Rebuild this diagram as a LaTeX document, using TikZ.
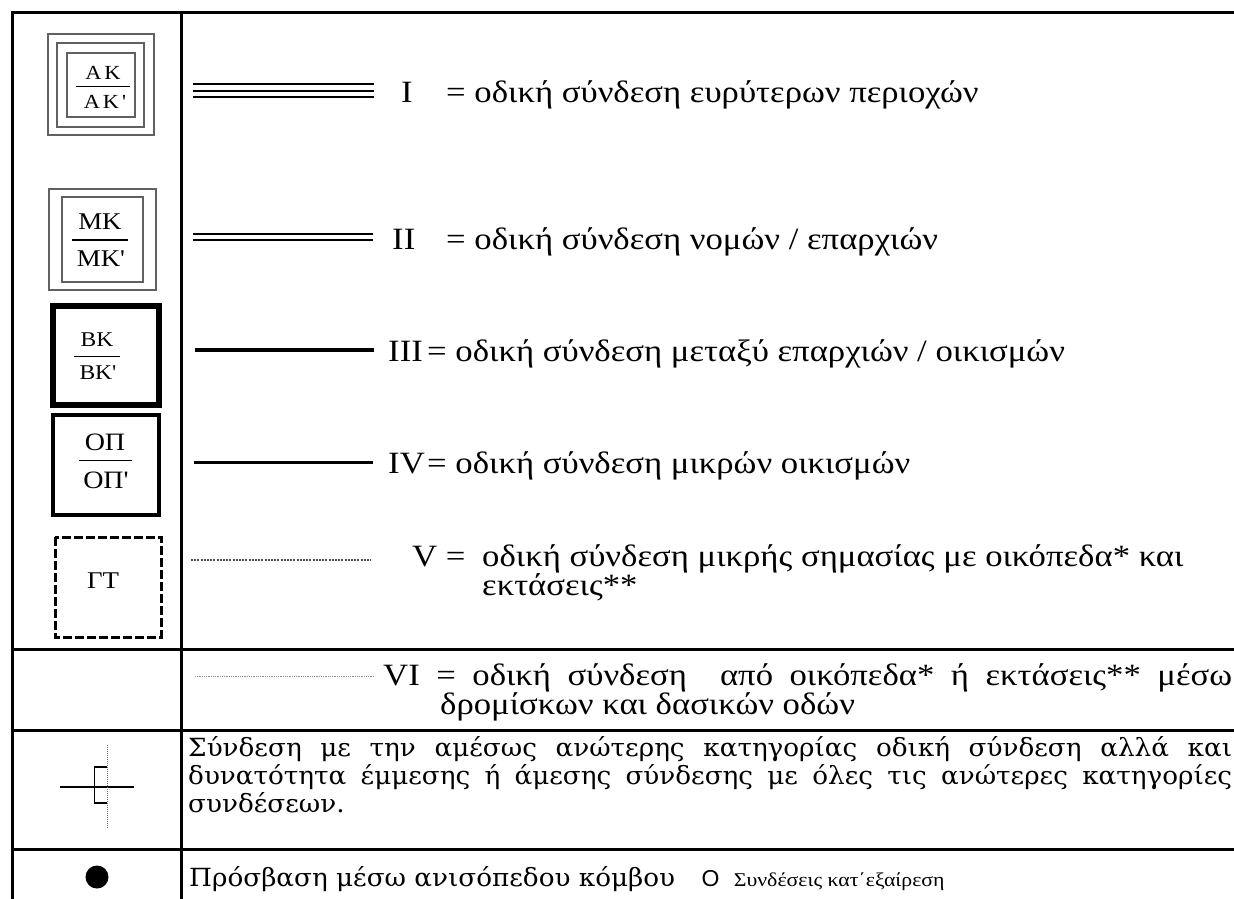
\documentclass[tikz,border=0pt]{standalone}
\usepackage{fontspec}
\newfontfamily\grfont{Liberation Serif}[FakeStretch=1.12]
\newfontfamily\parafont{DejaVu Serif}[FakeStretch=1.05]
\newfontfamily\sansO{Liberation Sans}
\newcommand\fsz[2]{\fontsize{#1pt}{#2pt}\selectfont}
\tikzset{
  frame/.style={line width=3pt, line cap=rect},
  gbox/.style={draw=black!62, line width=1.2pt},
  fracline/.style={line width=1.4pt},
  fractxt/.style={inner sep=0pt, anchor=center, font=\grfont\fsz{20}{20}},
  rowtxt/.style={anchor=base west, inner sep=0pt, font=\grfont\fsz{31}{34}},
  paratxt/.style={anchor=base west, inner sep=0pt, font=\parafont\fsz{25}{28}},
  dbl/.style={line width=2pt},
}
\begin{document}
\begin{tikzpicture}[x=1pt,y=-1pt]
\useasboundingbox (0,0) rectangle (1234,898);
\fill[white] (0,0) rectangle (1234,898);
\clip (0,0) rectangle (1234,898);

% ---- table frame
\coordinate (tl) at (12,12);
\coordinate (tr) at (1245,12);
\coordinate (bl) at (12,910);
\coordinate (dt) at (181,12);
\coordinate (db) at (181,910);
\draw[frame] (tr) -- (tl) -- (bl);
\draw[frame] (dt) -- (db);
\coordinate (s1l) at (12,649);  \coordinate (s1r) at (1245,649);
\coordinate (s2l) at (12,730);  \coordinate (s2r) at (1245,730);
\coordinate (s3l) at (12,849);  \coordinate (s3r) at (1245,849);
\draw[frame] (s1l) -- (s1r);
\draw[frame] (s2l) -- (s2r);
\draw[frame] (s3l) -- (s3r);

% ---- AK box
\draw[gbox] (48,34) rectangle (154,135);
\draw[gbox] (57,43) rectangle (144,127);
\draw[gbox] (67,53) rectangle (135,117);
\node[fractxt, font=\grfont\fsz{20}{20}] (ak1) at (103,73) {Α\hspace{3pt}Κ};
\node[fractxt, font=\grfont\fsz{20}{20}] (ak2) at (105,102) {Α\hspace{3pt}Κ\hspace{3pt}'};
\draw[fracline] (76,86.7) -- (130,86.7);

% ---- MK box
\draw[gbox] (49,189) rectangle (156,290);
\draw[gbox] (62,197) rectangle (143,282);
\node[fractxt, font=\grfont\fsz{24}{24}] (mk1) at (100,222) {ΜΚ};
\node[fractxt, font=\grfont\fsz{24}{24}] (mk2) at (101,259) {ΜΚ'};
\draw[fracline] (72,240) -- (128,240);

% ---- BK box
\draw[line width=5.5pt] (53,306) rectangle (159,405);
\node[fractxt, font=\grfont\fsz{21}{21}] (bk1) at (97,340) {ΒΚ};
\node[fractxt, font=\grfont\fsz{21}{21}] (bk2) at (98,373) {ΒΚ'};
\draw[fracline] (74,356.7) -- (120,356.7);

% ---- OP box
\draw[line width=4pt] (53,415) rectangle (159,515);
\node[fractxt, font=\grfont\fsz{25}{25}] (op1) at (105,442) {ΟΠ};
\node[fractxt, font=\grfont\fsz{25}{25}] (op2) at (106,480) {ΟΠ'};
\draw[fracline] (79,460.7) -- (132,460.7);

% ---- GT box
\draw[line width=3pt, dash pattern=on 9pt off 3pt] (55,537) rectangle (161,637);
\node[fractxt, font=\grfont\fsz{24}{24}] (gt) at (103,581) {ΓΤ};

% ---- legend lines
\draw[dbl] (193,84) -- (374,84);
\draw[dbl] (193,90.5) -- (374,90.5);
\draw[dbl] (193,97.3) -- (374,97.3);
\draw[dbl] (193,234) -- (373,234);
\draw[dbl] (193,240.3) -- (373,240.3);
\draw[line width=4pt] (195,350) -- (374,350);
\draw[line width=3pt] (194,462) -- (373,462);
\draw[black!70, line width=1.1pt, dash pattern=on 2pt off 1.2pt] (191,560) -- (371,560);
\draw[black!45, line width=0.8pt, dash pattern=on 1pt off 0.8pt] (195,676) -- (375,676);

% ---- row texts
\node[rowtxt] (r1n) at (401,102) {I};
\node[rowtxt] (r1t) at (446,102) {= οδική σύνδεση ευρύτερων περιοχών};
\node[rowtxt] (r2n) at (392,249) {II};
\node[rowtxt] (r2t) at (446,249) {= οδική σύνδεση νομών / επαρχιών};
\node[rowtxt] (r3n) at (388,361) {III};
\node[rowtxt] (r3t) at (427,361) {= οδική σύνδεση μεταξύ επαρχιών / οικισμών};
\node[rowtxt] (r4n) at (388,473) {IV};
\node[rowtxt] (r4t) at (427,473) {= οδική σύνδεση μικρών οικισμών};
\node[rowtxt] (r5n) at (412,566) {V =};
\node[rowtxt] (r5t) at (482,566) {οδική σύνδεση μικρής σημασίας με οικόπεδα* και};
\node[rowtxt] (r5u) at (482,595) {εκτάσεις**};
\node[rowtxt] (r6t) at (383,685) {\makebox[849pt][s]{VI = οδική σύνδεση\ \ από οικόπεδα* ή εκτάσεις** μέσω}};
\node[rowtxt] (r6u) at (440,714) {δρομίσκων και δασικών οδών};

% ---- connection symbol
\coordinate (chl) at (60,787);  \coordinate (chr) at (134,787);
\coordinate (cvt) at (107,745); \coordinate (cvb) at (107,828);
\draw[line width=2pt] (chl) -- (chr);
\draw[black!55, line width=0.8pt, dash pattern=on 1pt off 1pt] (cvt) -- (cvb);
\draw[line width=1.5pt] (107,767) -- (94.5,767) -- (94.5,803) -- (107,803);

\node[paratxt] (p1) at (188,756) {\makebox[1044pt][s]{Σύνδεση με την αμέσως ανώτερης κατηγορίας οδική σύνδεση αλλά και}};
\node[paratxt] (p2) at (188,784) {\makebox[1044pt][s]{δυνατότητα έμμεσης ή άμεσης σύνδεσης με όλες τις ανώτερες κατηγορίες}};
\node[paratxt] (p3) at (188,812) {συνδέσεων.};

% ---- last row
\fill (97,877) circle (11.5);
\node[paratxt] (b1) at (189,886) {Πρόσβαση μέσω ανισόπεδου κόμβου};
\node[anchor=base west, inner sep=0pt, font=\sansO\fsz{23}{23}] (b2) at ([xshift=26pt]b1.base east) {O};
\node[anchor=base west, inner sep=0pt, font=\grfont\fsz{19.5}{20}] (b3) at ([xshift=14pt]b2.base east) {Συνδέσεις κατ΄εξαίρεση};
\end{tikzpicture}
\end{document}
